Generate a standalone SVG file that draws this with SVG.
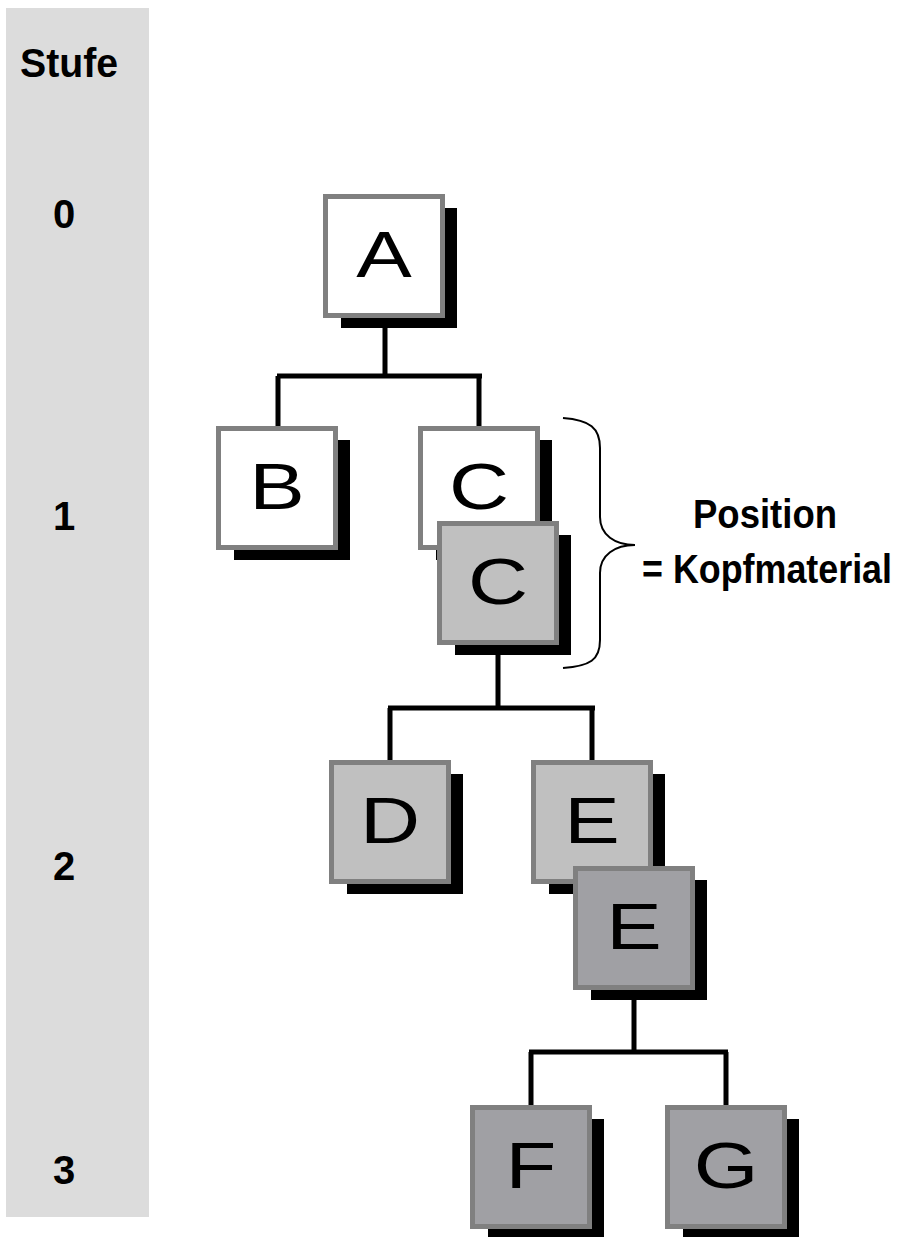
<svg xmlns="http://www.w3.org/2000/svg" width="898" height="1237" viewBox="0 0 898 1237">
  <style>
    .shadow { fill: #000000; }
    .box { stroke: #808080; stroke-width: 5; }
    .l0 { fill: #ffffff; }
    .l1 { fill: #c0c0c0; }
    .l2 { fill: #a0a0a4; }
    .letter { font-family: "Liberation Sans", Arial, sans-serif; font-size: 64px; fill: #000000; text-anchor: middle; }
    .label { font-family: "Liberation Sans", Arial, sans-serif; font-size: 40px; font-weight: bold; fill: #000000; }
    .mid { text-anchor: middle; }
    .conn { stroke: #000000; stroke-width: 5; fill: none; }
    .brace { stroke: #000000; stroke-width: 2; fill: none; }
  </style>

  <!-- level column -->
  <g id="levels">
    <rect x="6" y="8" width="143" height="1209" fill="#dcdcdc"/>
    <text class="label" x="20" y="77" textLength="98" lengthAdjust="spacingAndGlyphs">Stufe</text>
    <text class="label mid" x="64" y="228">0</text>
    <text class="label mid" x="64" y="530">1</text>
    <text class="label mid" x="64" y="880">2</text>
    <text class="label mid" x="64" y="1184">3</text>
  </g>

  <!-- tree connectors -->
  <g id="connectors">
    <path class="conn" d="M385,316 V376 M277,376 H482 M278,376 V426 M479,376 V426"/>
    <path class="conn" d="M498,645 V708 M388,708 H595 M390,708 V760 M592,708 V760"/>
    <path class="conn" d="M634,991 V1052 M529,1052 H728 M531,1052 V1105 M726,1052 V1105"/>
  </g>

  <g id="node-A">
    <rect class="shadow" x="341" y="208" width="116" height="120"/>
    <rect class="box l0" x="325.5" y="196.5" width="117" height="119"/>
    <text class="letter" transform="translate(384 277) scale(1.3 1)">A</text>
  </g>

  <g id="node-B">
    <rect class="shadow" x="234" y="440" width="116" height="120"/>
    <rect class="box l0" x="218.5" y="428.5" width="117" height="119"/>
    <text class="letter" transform="translate(277 509) scale(1.3 1)">B</text>
  </g>

  <g id="node-C1">
    <rect class="shadow" x="436" y="440" width="116" height="120"/>
    <rect class="box l0" x="420.5" y="428.5" width="117" height="119"/>
    <text class="letter" transform="translate(479 509) scale(1.3 1)">C</text>
  </g>

  <g id="node-C2">
    <rect class="shadow" x="455" y="535" width="116" height="120"/>
    <rect class="box l1" x="439.5" y="523.5" width="117" height="119"/>
    <text class="letter" transform="translate(498 604) scale(1.3 1)">C</text>
  </g>

  <g id="node-D">
    <rect class="shadow" x="347" y="774" width="116" height="120"/>
    <rect class="box l1" x="331.5" y="762.5" width="117" height="119"/>
    <text class="letter" transform="translate(390 843) scale(1.3 1)">D</text>
  </g>

  <g id="node-E1">
    <rect class="shadow" x="549" y="774" width="116" height="120"/>
    <rect class="box l1" x="533.5" y="762.5" width="117" height="119"/>
    <text class="letter" transform="translate(592 843) scale(1.3 1)">E</text>
  </g>

  <g id="node-E2">
    <rect class="shadow" x="591" y="880" width="116" height="120"/>
    <rect class="box l2" x="575.5" y="868.5" width="117" height="119"/>
    <text class="letter" transform="translate(634 949) scale(1.3 1)">E</text>
  </g>

  <g id="node-F">
    <rect class="shadow" x="488" y="1119" width="116" height="120"/>
    <rect class="box l2" x="472.5" y="1107.5" width="117" height="119"/>
    <text class="letter" transform="translate(531 1188) scale(1.3 1)">F</text>
  </g>

  <g id="node-G">
    <rect class="shadow" x="683" y="1119" width="116" height="120"/>
    <rect class="box l2" x="667.5" y="1107.5" width="117" height="119"/>
    <text class="letter" transform="translate(726 1188) scale(1.3 1)">G</text>
  </g>

  <!-- brace marking the position pair -->
  <g id="position-note">
    <path class="brace" d="M563,418 C590,420 600,428 600,448 L600,517 C600,535 615,545 635,545 C615,545 600,555 600,573 L600,640 C600,660 590,666 563,668"/>
    <text class="label" x="693" y="528" textLength="144" lengthAdjust="spacingAndGlyphs">Position</text>
    <text class="label" x="642" y="583" textLength="250" lengthAdjust="spacingAndGlyphs">= Kopfmaterial</text>
  </g>
</svg>
